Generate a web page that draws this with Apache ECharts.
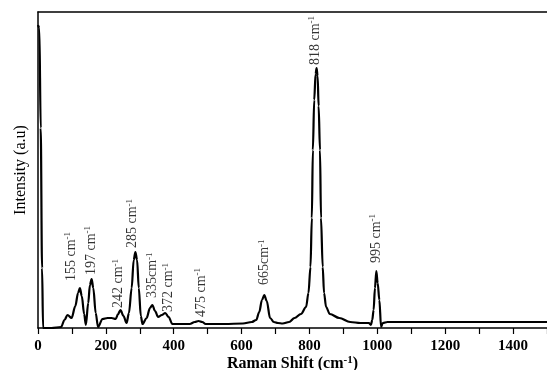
<!DOCTYPE html>
<html><head><meta charset="utf-8">
<script src="https://cdn.jsdelivr.net/npm/echarts@6/dist/echarts.min.js"></script>
<style>html,body{margin:0;padding:0;background:#fff}#c{width:547px;height:370px}</style>
</head><body><div id="c"></div>
<script>
// Raman shift (cm^-1) and intensity (a.u.)
const shift = [0,4,8,12,15,40,68,78,87,99,110,118,123.5,129,136,141,148,153,158,163,170,177,190,205,217,229,236,243,252,261,268,276,282,287,292,297,303,308,320,330,337,345,354,365,375,385,396,420,447,462,473,484,494,550,604,630,643,652,660,667,674,684,695,707,721,740,756,775,790,797,803,807,810,814,818,821,824,827,831,834,839,843,849,860,888,920,950,975,981,985,989,993,997,1001,1006,1011,1016,1030,1100,1200,1300,1400,1447,1500];
const intensity = [303,300,200,60,0,0,1,8,13,10,22,35,40,32,14,3,25,43,49,40,15,1,9,10,10,9,14,18,12,5,15,40,68,76,68,40,12,4,10,20,23,17,11,13,15,11,4,4,4,6,7,6,4,4,4.5,6,8,16,28,33,27,10,6,5,4.5,6,10,14,21,35,61,110,178,228,254,260,252,222,178,110,61,35,21,14,10,6,5,5,3,8,18,40,57,45,28,1,5,6,6,6,6,6,6,6];

// peak annotations
const peakNames = ['155','197','242','285','335','372','475','665','818','995'];
const peakSpace = [true,true,true,true,false,true,true,false,true,true];
const labelShift = [97,156,238,279,338,385,482,668,818,997];
const labelIntensity = [47,53,20,80,30,16,11,43,263,65];

// x-axis ticks
const xMin = 0, xMax = 1500, xStep = 100, xLabelStep = 200;

const font = 'Liberation Serif';
const labelData = peakNames.map((n,i)=>({value:[labelShift[i],labelIntensity[i]], name:n, sp:peakSpace[i]}));

const chart = echarts.init(document.getElementById('c'));
chart.setOption({
  animation:false,
  grid:{left:38,right:0,top:12,bottom:42,containLabel:false,outerBoundsMode:'none'},
  xAxis:[{
    type:'value', min:xMin, max:xMax, interval:xStep,
    axisLine:{onZero:false,lineStyle:{color:'#000',width:1.5}},
    axisTick:{show:true,length:6,inside:false,lineStyle:{color:'#000',width:1.2}},
    splitLine:{show:false},
    axisLabel:{color:'#000',fontFamily:font,fontWeight:'bold',fontSize:15,margin:11,
      formatter:v=> (v % xLabelStep === 0 ? String(v) : '')},
    name:'{n|Raman Shift (cm}{s|-1}{n|)}',
    nameLocation:'middle', nameGap:27, nameMoveOverlap:false,
    nameTextStyle:{verticalAlign:'top',rich:{
      n:{fontFamily:font,fontWeight:'bold',fontSize:16,color:'#000',lineHeight:18},
      s:{fontFamily:font,fontWeight:'bold',fontSize:11,color:'#000',verticalAlign:'top',lineHeight:12}
    }}
  },{
    type:'value', position:'top', min:xMin, max:xMax,
    axisLine:{show:true,onZero:false,lineStyle:{color:'#000',width:1.5}},
    axisTick:{show:false}, axisLabel:{show:false}, splitLine:{show:false}
  }],
  yAxis:{
    type:'value', min:0, max:316,
    axisLine:{show:true,onZero:false,lineStyle:{color:'#000',width:1.5}},
    axisTick:{show:false}, axisLabel:{show:false}, splitLine:{show:false},
    name:'Intensity (a.u)', nameLocation:'middle', nameGap:9, nameRotate:90,
    nameTextStyle:{fontFamily:font,fontSize:16,color:'#000'}
  },
  series:[{
    type:'line', xAxisIndex:0,
    data: shift.map((x,i)=>[x,intensity[i]]),
    showSymbol:false, smooth:0.35, smoothMonotone:'x',
    lineStyle:{color:'#000',width:2.2}
  },{
    type:'scatter', xAxisIndex:0,
    data: labelData, symbolSize:1, itemStyle:{color:'rgba(0,0,0,0)'},
    label:{show:true, position:'inside', rotate:90, align:'left', verticalAlign:'middle',
      formatter:p=>'{n|'+p.name+(p.data.sp?' cm':'cm')+'}{s|-1}',
      rich:{
        n:{fontFamily:font,fontSize:14,color:'#000',lineHeight:16},
        s:{fontFamily:font,fontSize:9,color:'#000',verticalAlign:'top',lineHeight:10}
      }
    }
  }]
});
</script></body></html>
